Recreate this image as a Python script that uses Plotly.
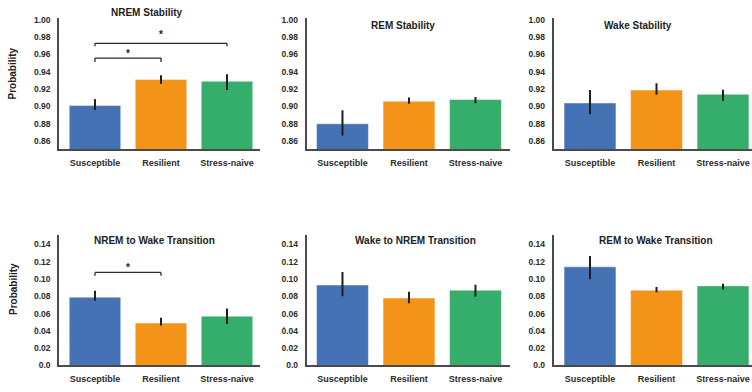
import plotly.graph_objects as go

# Groups and colours
groups = ["Susceptible", "Resilient", "Stress-naive"]
colors = ["#4472B5", "#F39317", "#35AE6B"]

# Panel titles
titles = [
    "NREM Stability", "REM Stability", "Wake Stability",
    "NREM to Wake Transition", "Wake to NREM Transition", "REM to Wake Transition",
]

# Mean probability per group, with lower / upper bounds of the error bars
means = [
    [0.901, 0.931, 0.929],
    [0.880, 0.906, 0.908],
    [0.904, 0.919, 0.914],
    [0.079, 0.049, 0.057],
    [0.093, 0.078, 0.087],
    [0.114, 0.087, 0.092],
]
err_low = [
    [0.896, 0.926, 0.919],
    [0.8665, 0.903, 0.9037],
    [0.891, 0.9136, 0.9064],
    [0.0749, 0.0462, 0.048],
    [0.080, 0.072, 0.0797],
    [0.0997, 0.0847, 0.0878],
]
err_high = [
    [0.9085, 0.936, 0.937],
    [0.8956, 0.9103, 0.911],
    [0.9189, 0.9268, 0.9192],
    [0.0863, 0.0553, 0.0658],
    [0.108, 0.0853, 0.0932],
    [0.1267, 0.0907, 0.0944],
]

# Axis ticks for the two rows
top_ticks = [0.86, 0.88, 0.90, 0.92, 0.94, 0.96, 0.98, 1.00]
top_ticktext = ["0.86", "0.88", "0.90", "0.92", "0.94", "0.96", "0.98", "1.00"]
bot_ticks = [0.0, 0.02, 0.04, 0.06, 0.08, 0.10, 0.12, 0.14]
bot_ticktext = ["0.0", "0.02", "0.04", "0.06", "0.08", "0.10", "0.12", "0.14"]

# Significance brackets: (panel, group a, group b, bar height, tip height, star y)
brackets = [
    (0, 0, 1, 0.9558, 0.9513, 0.9612),
    (0, 0, 2, 0.9728, 0.9694, 0.9835),
    (3, 0, 1, 0.1076, 0.1038, 0.1130),
]

W, H = 752, 392
col_px = [(59, 260), (306.5, 510), (553.5, 752)]
row_px = [(15.3, 149), (236.7, 370)]
x_ranges = [(-0.545, 2.5), (-0.541, 2.519), (-0.549, 2.436)]
y_ranges = [(0.851, 1.002), (0.0, 0.151)]

FONT = "Liberation Sans, Arial, sans-serif"
AXC = "#4a4a4a"

fig = go.Figure()
layout = {}
annotations = []
shapes = []

for i in range(6):
    r, c = divmod(i, 3)
    n = i + 1
    xa = "x" if n == 1 else f"x{n}"
    ya = "y" if n == 1 else f"y{n}"
    lo, hi = err_low[i], err_high[i]
    fig.add_trace(go.Bar(
        x=groups, y=means[i], xaxis=xa, yaxis=ya,
        marker=dict(color=colors, line=dict(color="rgba(255,255,255,0.45)", width=1)),
        error_y=dict(
            type="data", symmetric=False,
            array=[h - m for h, m in zip(hi, means[i])],
            arrayminus=[m - l for m, l in zip(means[i], lo)],
            color="#1e1e1e", thickness=2, width=0,
        ),
        showlegend=False,
    ))
    x0p, x1p = col_px[c]
    y0p, y1p = row_px[r]
    layout["xaxis" if n == 1 else f"xaxis{n}"] = dict(
        domain=[x0p / W, x1p / W], anchor=ya, range=list(x_ranges[c]),
        showline=True, linecolor=AXC, linewidth=1.6, showgrid=False, zeroline=False,
        ticks="", ticklabelstandoff=4,
        tickfont=dict(family=FONT, size=9, color="#2b2b2b", weight="bold"),
        fixedrange=True,
    )
    layout["yaxis" if n == 1 else f"yaxis{n}"] = dict(
        domain=[1 - y1p / H, 1 - y0p / H], anchor=xa, range=list(y_ranges[r]),
        showline=True, linecolor=AXC, linewidth=1.6, showgrid=False, zeroline=False,
        ticks="", ticklabelstandoff=5,
        tickvals=top_ticks if r == 0 else bot_ticks,
        ticktext=top_ticktext if r == 0 else bot_ticktext,
        tickfont=dict(family=FONT, size=8.5, color="#2b2b2b", weight="bold"),
        fixedrange=True,
    )

# Panel titles (first one sits above the plot area)
title_pos = [(147, 10), (403, 23), (638, 23), (154, 242), (415, 242), (656, 242)]
for t, (px, py) in zip(titles, title_pos):
    annotations.append(dict(
        text=t, x=px / W, y=1 - py / H, xref="paper", yref="paper",
        xanchor="center", yanchor="middle", showarrow=False,
        font=dict(family=FONT, size=10, color="#222222", weight="bold"),
    ))

# Y-axis titles on the left column
for py in (72, 292):
    annotations.append(dict(
        text="Probability", x=13 / W, y=1 - py / H, xref="paper", yref="paper",
        xanchor="center", yanchor="middle", showarrow=False, textangle=-90,
        font=dict(family=FONT, size=10, color="#222222", weight="bold"),
    ))

# Small stray dots beside the 0.04 ticks of the lower row
for px in (35.7, 284, 533):
    shapes.append(dict(
        type="circle", xref="paper", yref="paper",
        x0=(px - 0.7) / W, x1=(px + 0.7) / W,
        y0=1 - 331.7 / H, y1=1 - 330.3 / H,
        fillcolor="#666666", line=dict(width=0),
    ))

# Significance brackets with stars
for panel, a, b, yb, yt, ys in brackets:
    n = panel + 1
    xr = "x" if n == 1 else f"x{n}"
    yr = "y" if n == 1 else f"y{n}"
    line = dict(color="#2a2a2a", width=1.3)
    shapes.append(dict(type="line", xref=xr, yref=yr, x0=a, x1=b, y0=yb, y1=yb, line=line))
    shapes.append(dict(type="line", xref=xr, yref=yr, x0=a, x1=a, y0=yt, y1=yb, line=line))
    shapes.append(dict(type="line", xref=xr, yref=yr, x0=b, x1=b, y0=yt, y1=yb, line=line))
    annotations.append(dict(
        text="*", x=(a + b) / 2, y=ys, xref=xr, yref=yr,
        xanchor="center", yanchor="middle", showarrow=False,
        font=dict(family=FONT, size=10, color="#222222", weight="bold"),
    ))

fig.update_layout(
    width=W, height=H,
    margin=dict(l=0, r=0, t=0, b=0),
    paper_bgcolor="white", plot_bgcolor="white",
    bargap=0.22,
    annotations=annotations, shapes=shapes,
    **layout,
)

fig.write_html("out.html", config={"displayModeBar": False})
